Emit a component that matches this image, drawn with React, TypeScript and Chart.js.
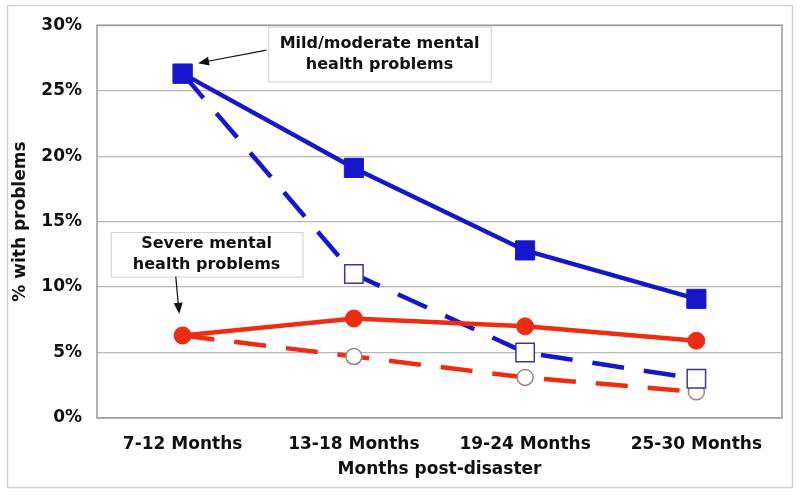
import React, { useEffect, useRef } from 'react';
import { Chart, registerables } from 'chart.js';

Chart.register(...registerables);

// ---- data ----
const categories = ['7-12 Months', '13-18 Months', '19-24 Months', '25-30 Months'];
const mildSolid = [26.3, 19.1, 12.8, 9.1];
const mildDashed = [26.3, 11.0, 5.0, 3.0];
const severeSolid = [6.3, 7.6, 7.0, 5.9];
const severeDashed = [6.3, 4.7, 3.1, 2.0];
const yTickValues = [0, 5, 10, 15, 20, 25, 30];
const mildLabel = ['Mild/moderate mental', 'health problems'];
const severeLabel = ['Severe mental', 'health problems'];
const xTitle = 'Months post-disaster';
const yTitle = '% with problems';

// ---- styles ----
const BLUE = '#1616CC';
const RED = '#EE2C12';
const FONT = "'DejaVu Sans', 'Liberation Sans', Arial, sans-serif";

// annotation layout in data space (category index, percent)
const callouts = [
  { lines: mildLabel, box: [0.5, 29.9, 1.8, 25.7], from: [0.49, 28.1], to: [0.09, 27.1] },
  { lines: severeLabel, box: [-0.42, 14.2, 0.7, 10.8], from: [-0.04, 10.8], to: [-0.02, 7.95] },
];

const framePlugin = {
  id: 'frame',
  beforeDraw(chart: any) {
    const { ctx, width, height } = chart;
    ctx.save();
    ctx.fillStyle = '#ffffff';
    ctx.fillRect(0, 0, width, height);
    ctx.strokeStyle = '#D4D4D4';
    ctx.lineWidth = 1.5;
    ctx.strokeRect(7.5, 5.5, width - 15, height - 13);
    ctx.restore();
  },
  beforeDatasetsDraw(chart: any) {
    const { ctx, chartArea: a } = chart;
    ctx.save();
    ctx.strokeStyle = '#9A9A9A';
    ctx.lineWidth = 1.5;
    ctx.strokeRect(a.left, a.top, a.right - a.left, a.bottom - a.top);
    ctx.restore();
  },
};

function arrow(ctx: any, x1: number, y1: number, x2: number, y2: number) {
  const ang = Math.atan2(y2 - y1, x2 - x1);
  const len = 11;
  const hw = 4.5;
  ctx.beginPath();
  ctx.moveTo(x1, y1);
  ctx.lineTo(x2 - Math.cos(ang) * len * 0.8, y2 - Math.sin(ang) * len * 0.8);
  ctx.stroke();
  ctx.beginPath();
  ctx.moveTo(x2, y2);
  ctx.lineTo(x2 - Math.cos(ang) * len - Math.sin(ang) * hw, y2 - Math.sin(ang) * len + Math.cos(ang) * hw);
  ctx.lineTo(x2 - Math.cos(ang) * len + Math.sin(ang) * hw, y2 - Math.sin(ang) * len - Math.cos(ang) * hw);
  ctx.closePath();
  ctx.fill();
}

const calloutPlugin = {
  id: 'callouts',
  afterDraw(chart: any) {
    const { ctx } = chart;
    const xs = chart.scales.x;
    const ys = chart.scales.y;
    ctx.save();
    callouts.forEach((c) => {
      const x0 = xs.getPixelForValue(c.box[0]);
      const y0 = ys.getPixelForValue(c.box[1]);
      const x1 = xs.getPixelForValue(c.box[2]);
      const y1 = ys.getPixelForValue(c.box[3]);
      ctx.fillStyle = '#ffffff';
      ctx.fillRect(x0, y0, x1 - x0, y1 - y0);
      ctx.strokeStyle = '#D0D0D0';
      ctx.lineWidth = 1;
      ctx.strokeRect(x0 + 0.5, y0 + 0.5, x1 - x0, y1 - y0);
      ctx.fillStyle = '#111111';
      ctx.font = `bold 16px ${FONT}`;
      ctx.textAlign = 'center';
      ctx.textBaseline = 'middle';
      const cx = (x0 + x1) / 2;
      const cy = (y0 + y1) / 2;
      const lh = 21;
      c.lines.forEach((t: string, i: number) => {
        ctx.fillText(t, cx, cy + (i - (c.lines.length - 1) / 2) * lh);
      });
      ctx.strokeStyle = '#111111';
      ctx.fillStyle = '#111111';
      ctx.lineWidth = 1.2;
      arrow(
        ctx,
        xs.getPixelForValue(c.from[0]),
        ys.getPixelForValue(c.from[1]),
        xs.getPixelForValue(c.to[0]),
        ys.getPixelForValue(c.to[1])
      );
    });
    ctx.restore();
  },
};

export default function App() {
  const ref = useRef<HTMLCanvasElement | null>(null);

  useEffect(() => {
    document.body.style.margin = '0';
    if (!ref.current) return;
    const chart = new Chart(ref.current, {
      type: 'line',
      data: {
        labels: categories,
        datasets: [
          {
            label: 'Mild/moderate (solid)',
            data: mildSolid,
            borderColor: BLUE,
            backgroundColor: BLUE,
            borderWidth: 4.5,
            pointStyle: 'rect',
            pointRadius: 13.5,
            pointBorderWidth: 1,
            pointBackgroundColor: BLUE,
            pointBorderColor: BLUE,
            tension: 0,
            order: 0,
          },
          {
            label: 'Severe (solid)',
            data: severeSolid,
            borderColor: RED,
            backgroundColor: RED,
            borderWidth: 4.5,
            pointStyle: 'circle',
            pointRadius: 8.5,
            pointBorderWidth: 1,
            pointBackgroundColor: RED,
            pointBorderColor: RED,
            tension: 0,
            order: 1,
          },
          {
            label: 'Mild/moderate (dashed)',
            data: mildDashed,
            borderColor: BLUE,
            backgroundColor: '#ffffff',
            borderWidth: 4.5,
            borderDash: [32, 20],
            pointStyle: 'rect',
            pointRadius: 13,
            pointBorderWidth: 1.5,
            pointBackgroundColor: '#ffffff',
            pointBorderColor: '#3A3A88',
            tension: 0,
            order: 2,
          },
          {
            label: 'Severe (dashed)',
            data: severeDashed,
            borderColor: RED,
            backgroundColor: '#ffffff',
            borderWidth: 4.5,
            borderDash: [32, 20],
            pointStyle: 'circle',
            pointRadius: 8,
            pointBorderWidth: 1.5,
            pointBackgroundColor: '#ffffff',
            pointBorderColor: '#A08080',
            tension: 0,
            order: 3,
          },
        ],
      },
      options: {
        animation: false,
        responsive: false,
        maintainAspectRatio: false,
        layout: { padding: { left: 0, right: 18, top: 22, bottom: 0 } },
        plugins: {
          legend: { display: false },
          tooltip: { enabled: false },
        },
        scales: {
          x: {
            type: 'category',
            offset: true,
            grid: { display: false, drawTicks: false },
            border: { display: false },
            ticks: {
              color: '#111111',
              padding: 16,
              maxRotation: 0,
              autoSkip: false,
              font: { family: FONT, size: 17, weight: 'bold' },
            },
            title: {
              display: true,
              text: xTitle,
              color: '#111111',
              font: { family: FONT, size: 17, weight: 'bold' },
              padding: { top: 0, bottom: 15 },
            },
            afterFit(scale: any) {
              scale.height = 77;
            },
          },
          y: {
            min: 0,
            max: 30,
            afterBuildTicks(scale: any) {
              scale.ticks = yTickValues.map((v) => ({ value: v }));
            },
            grid: { color: '#B8B8B8', lineWidth: 1.2, drawTicks: false },
            border: { display: false },
            ticks: {
              color: '#111111',
              padding: 15,
              font: { family: FONT, size: 17, weight: 'bold' },
              callback: (v: any) => `${v}%`,
            },
            title: {
              display: true,
              text: yTitle,
              color: '#111111',
              font: { family: FONT, size: 17, weight: 'bold' },
              padding: { top: 10, bottom: 0 },
            },
            afterFit(scale: any) {
              scale.width = 97;
            },
          },
        },
      },
      plugins: [framePlugin, calloutPlugin],
    });
    return () => chart.destroy();
  }, []);

  return (
    <div style={{ width: 800, height: 495 }}>
      <canvas ref={ref} width={800} height={495} style={{ display: 'block', width: 800, height: 495 }} />
    </div>
  );
}
